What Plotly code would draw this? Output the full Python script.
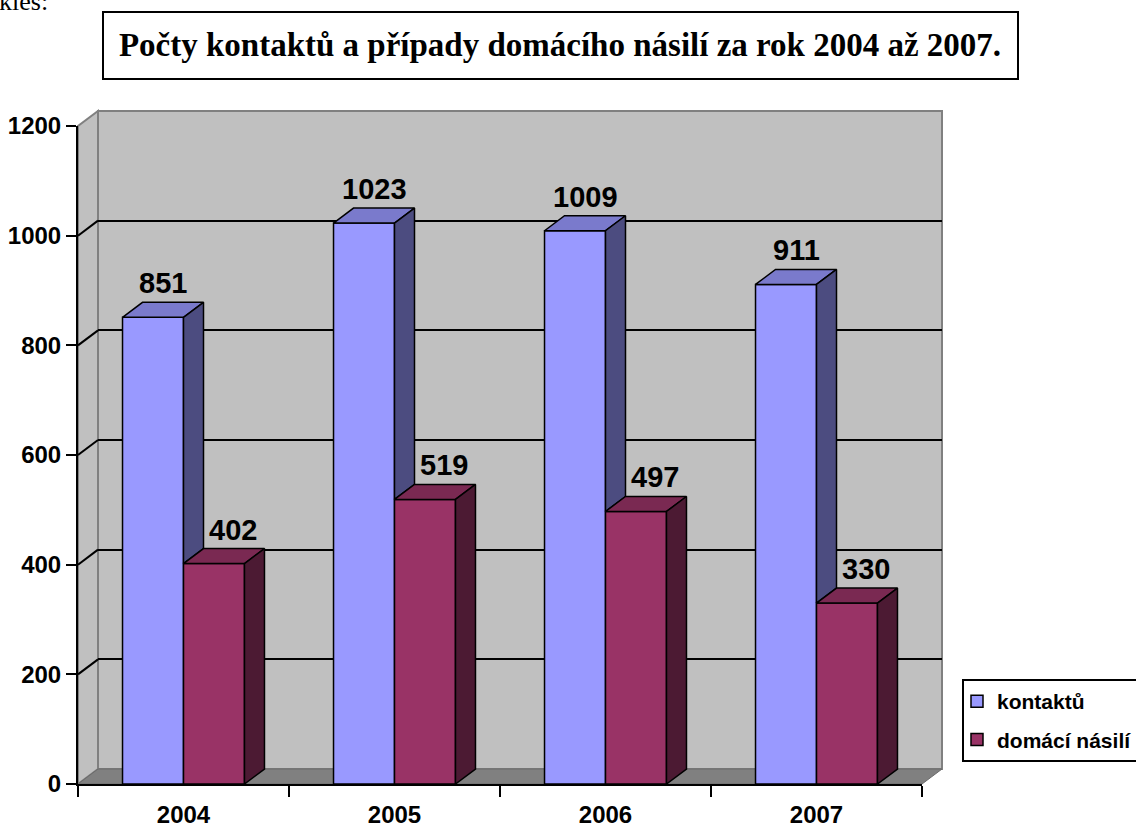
import plotly.graph_objects as go

# ---------------- data ----------------
years = ["2004", "2005", "2006", "2007"]
kontaktu = [851, 1023, 1009, 911]
domaci_nasili = [402, 519, 497, 330]
series_names = ["kontaktů", "domácí násilí"]
y_ticks = [0, 200, 400, 600, 800, 1000, 1200]
title_text = "Počty kontaktů a případy domácího násilí za rok 2004 až 2007."
corner_text = "kles:"

# ---------------- geometry / style ----------------
W, H = 1136, 828
L, B = 78, 784            # front-plane origin in px
FW, FH = 844, 658         # front-plane size in px
DX, DY = 20, 15           # depth offset in px
PW, PH = FW + DX, FH + DY # paper size
YMAX = y_ticks[-1]
NCAT = len(years)
BAR_W = 0.289             # bar width in category units

fx, fy = FW / PW, FH / PH
ox, oy = DX / PW, DY / PH
dxu = DX / (FW / NCAT)    # depth in category units
dyu = DY / (FH / YMAX)    # depth in value units

front_cols = ["#9999FF", "#993366"]
top_cols = ["#7A7ACC", "#7A2952"]
side_cols = ["#4C4C80", "#4C1A33"]
offsets = [-BAR_W, 0.0]
label_shift = [0, 9]

SANS = "Liberation Sans, Arial, sans-serif"
SERIF = "Liberation Serif, Times New Roman, serif"

fig = go.Figure()
series = [kontaktu, domaci_nasili]

# back plane subplot (carries the back-wall gridlines)
fig.add_trace(go.Scatter(x=[], y=[], xaxis="x", yaxis="y", showlegend=False,
                         hoverinfo="skip"))

# front faces (bars)
for s, vals in enumerate(series):
    fig.add_trace(go.Bar(
        x=years, y=vals, name=series_names[s], width=BAR_W, offset=offsets[s],
        marker=dict(color=front_cols[s], line=dict(color="black", width=1.5)),
        xaxis="x2", yaxis="y2", legendgroup=f"g{s}", hoverinfo="x+y",
    ))

# top and side faces (3D) on an overlaying linear axis
for s, vals in enumerate(series):
    tx, ty, sx, sy = [], [], [], []
    for i, v in enumerate(vals):
        x0 = i + offsets[s]
        x1 = x0 + BAR_W
        tx += [x0, x1, x1 + dxu, x0 + dxu, x0, None]
        ty += [v, v, v + dyu, v + dyu, v, None]
        base = series[1][i] if s == 0 else 0
        sx += [x1, x1 + dxu, x1 + dxu, x1, x1, None]
        sy += [base, base + dyu, v + dyu, v, base, None]
    for xs, ys, col in ((tx, ty, top_cols[s]), (sx, sy, side_cols[s])):
        fig.add_trace(go.Scatter(
            x=xs, y=ys, mode="lines", fill="toself", fillcolor=col,
            line=dict(color="black", width=1.5), xaxis="x3", yaxis="y2",
            showlegend=False, hoverinfo="skip",
        ))

# diagonal grid connectors on the left wall
cx, cy = [], []
for t in y_ticks[1:-1]:
    cx += [-0.5, -0.5 + dxu, None]
    cy += [t, t + dyu, None]
fig.add_trace(go.Scatter(x=cx, y=cy, mode="lines", line=dict(color="black", width=2),
                         xaxis="x3", yaxis="y2", showlegend=False, hoverinfo="skip"))

# data labels
annotations = []
for s, vals in enumerate(series):
    for i, v in enumerate(vals):
        annotations.append(dict(
            x=i + offsets[s] + BAR_W / 2 + dxu / 2, y=v + dyu, xref="x3", yref="y2",
            text=str(v), showarrow=False, yanchor="bottom", xanchor="center",
            xshift=label_shift[s], yshift=1,
            font=dict(family=SANS, size=29, color="black", weight="bold"),
        ))
annotations.append(dict(
    x=-L / PW - 3 / PW, y=(B - 18) / PH, xref="paper", yref="paper", xanchor="left",
    yanchor="bottom", text=corner_text, showarrow=False,
    font=dict(family=SERIF, size=26, color="black"),
))

shapes = [
    # title box
    dict(type="rect", xref="paper", yref="paper",
         x0=(103 - L) / PW, x1=(1018 - L) / PW, y0=(B - 79) / PH, y1=(B - 12) / PH,
         line=dict(color="black", width=2), fillcolor="white", layer="below"),
    # back wall
    dict(type="rect", xref="paper", yref="paper", x0=ox, x1=1, y0=oy, y1=1,
         fillcolor="#C0C0C0", line=dict(color="#808080", width=2), layer="below"),
    # left wall
    dict(type="path", xref="paper", yref="paper",
         path=f"M0,0 L{ox},{oy} L{ox},1 L0,{fy} Z",
         fillcolor="#C0C0C0", line=dict(color="#808080", width=2), layer="below"),
    # floor
    dict(type="path", xref="paper", yref="paper",
         path=f"M0,0 L{fx},0 L1,{oy} L{ox},{oy} Z",
         fillcolor="#808080", line=dict(color="#6A6A6A", width=1), layer="below"),
]

axis_font = dict(family=SANS, size=24, color="black", weight="bold")

fig.update_layout(
    width=W, height=H,
    margin=dict(l=L, r=W - L - PW, t=B - FH - DY, b=H - B, pad=0, autoexpand=False),
    paper_bgcolor="white", plot_bgcolor="rgba(0,0,0,0)",
    barmode="overlay",
    showlegend=True,
    title=dict(text=title_text, x=560 / W, y=1 - 44 / H, xref="container", yref="container",
               xanchor="center", yanchor="middle", automargin=False,
               font=dict(family=SERIF, size=33, color="black", weight="bold")),
    # back plane (gridlines)
    xaxis=dict(domain=[ox, 1], range=[-0.5, NCAT - 0.5], visible=False, anchor="y",
               fixedrange=True, automargin=False),
    yaxis=dict(domain=[oy, 1], range=[0, YMAX], anchor="x", showgrid=True,
               gridcolor="black", gridwidth=2, tickvals=y_ticks[1:-1],
               showticklabels=False, ticks="", zeroline=False, showline=False,
               fixedrange=True, automargin=False),
    # front plane
    xaxis2=dict(domain=[0, fx], range=[-0.5, NCAT - 0.5], type="category", anchor="y2",
                showline=True, linecolor="black", linewidth=2, ticks="outside",
                tickson="boundaries", ticklen=11, tickwidth=2, tickcolor="black",
                tickfont=axis_font, showgrid=False, zeroline=False, fixedrange=True,
                automargin=False, ticklabelstandoff=8),
    yaxis2=dict(domain=[0, fy], range=[0, YMAX], anchor="x2", tickvals=y_ticks,
                showline=True, linecolor="black", linewidth=2, ticks="outside",
                ticklen=10, tickwidth=2, tickcolor="black", tickfont=axis_font,
                showgrid=False, zeroline=False, fixedrange=True, automargin=False),
    xaxis3=dict(overlaying="x2", range=[-0.5, NCAT - 0.5], anchor="y2", visible=False,
                fixedrange=True, automargin=False),
    legend=dict(x=962 / W, y=1 - 679 / H, xref="container", yref="container",
                xanchor="left", yanchor="top", indentation=-7,
                bgcolor="white", bordercolor="black", borderwidth=2,
                font=dict(family=SANS, size=21, color="black", weight="bold"),
                tracegroupgap=8, traceorder="grouped"),
    annotations=annotations,
    shapes=shapes,
)

fig.write_html("out.html", config={"displayModeBar": False},
               post_script="document.body.style.margin='0';")
